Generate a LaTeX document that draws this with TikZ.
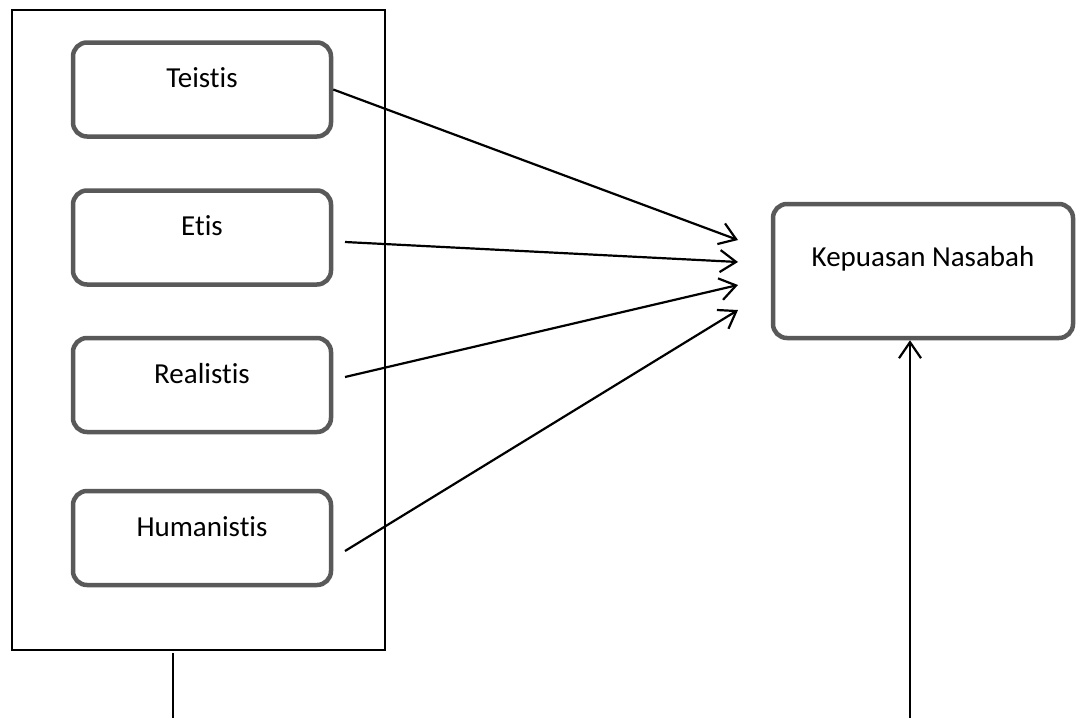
\documentclass[tikz,border=0pt]{standalone}
\usepackage{fontspec}
\setmainfont[Ligatures=NoCommon]{Carlito}
\usetikzlibrary{arrows.meta}
\definecolor{BoxGray}{rgb}{0.35,0.35,0.35}

\begin{document}
\begin{tikzpicture}[x=1pt,y=-1pt,
  varbox/.style={draw=BoxGray,line width=4.5pt,rounded corners=14pt,fill=white,
    minimum width=258pt,minimum height=94pt,inner sep=0pt,
    font=\fontsize{29}{35}\selectfont,text height=20pt,text depth=24pt},
  link/.style={line width=2.2pt,-{Straight Barb[length=16pt,width=22pt,line width=2.2pt]}}]
\useasboundingbox (0,0) rectangle (1086,718);

\draw[line width=2pt] (12,10) rectangle (385,650);
\node[varbox] (teistis) at (202,89.5) {Teistis};
\node[varbox] (etis) at (202,237.5) {Etis};
\node[varbox] (realistis) at (202,385) {Realistis};
\node[varbox] (humanistis) at (202,538) {Humanistis};
\node[varbox,minimum width=300pt,minimum height=134pt,text height=20pt,text depth=30pt] (kepuasan) at (923,271) {Kepuasan Nasabah};

\coordinate (t1) at (738,240);
\coordinate (t2) at (738,262);
\coordinate (t3) at (738,285);
\coordinate (t4) at (738,310);
\coordinate (s2) at (345,242);
\coordinate (s3) at (345,377);
\coordinate (s4) at (345,551);

\draw[link] (teistis.east) -- (t1);
\draw[link] (s2) -- (t2);
\draw[link] (s3) -- (t3);
\draw[link] (s4) -- (t4);

\coordinate (b1) at (173,653);
\coordinate (b2) at (173,718);
\coordinate (b3) at (910,718);
\draw[line width=1.5pt] (b1) -- (b2);
\draw[link] (b3) -- (kepuasan.south -| b3);
\end{tikzpicture}
\end{document}
